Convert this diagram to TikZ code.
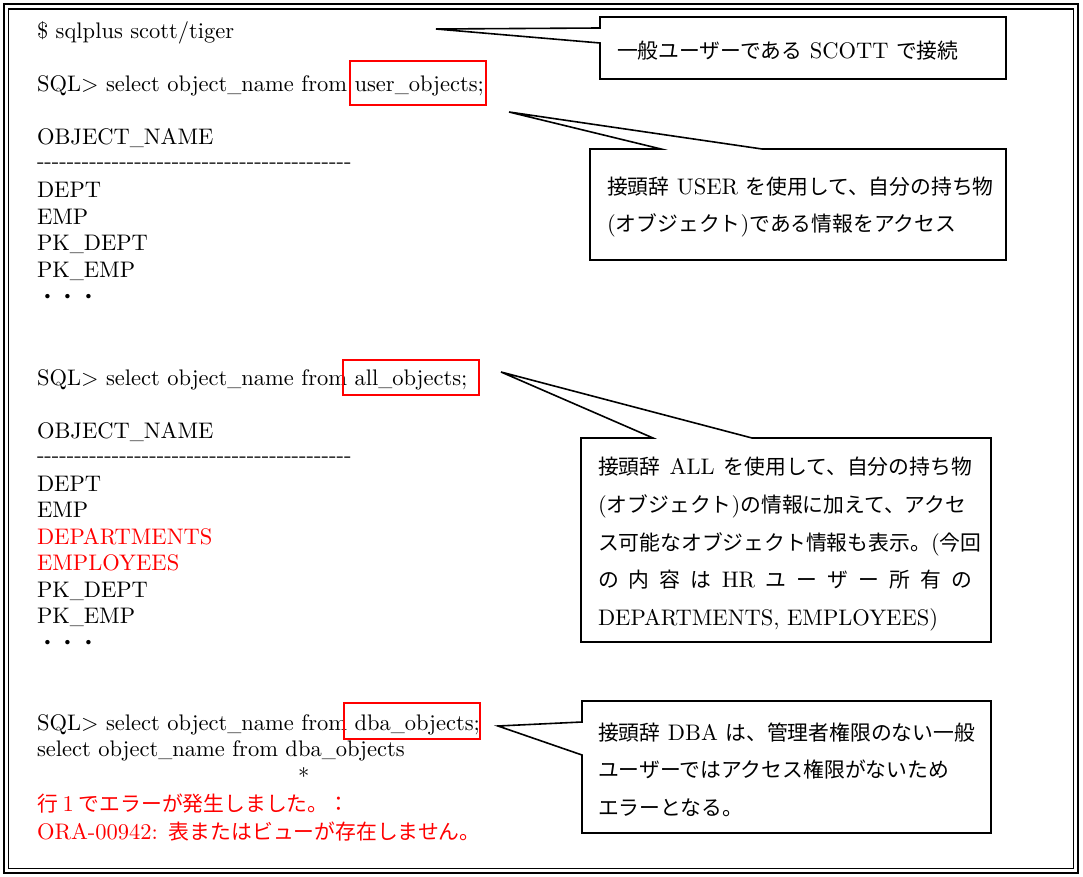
\documentclass[tikz,border=0pt]{standalone}
\usepackage{fontspec}
\setmainfont{lmroman10-regular}[Extension=.otf,BoldFont=lmroman10-bold,ItalicFont=lmroman10-italic,BoldItalicFont=lmroman10-bolditalic]
\newfontfamily\jp[Scale=0.925]{Noto Sans CJK JP}
\usetikzlibrary{calc}
\definecolor{errred}{RGB}{255,0,0}
\newcommand\us{\begingroup\setbox0\hbox{\_}\dimen0=\wd0\relax
  \pgfmathsetmacro\usf{14/\the\dimen0}\scalebox{\usf}[1]{\box0}\endgroup}
\begin{document}
\begin{tikzpicture}[x=1pt,y=-1pt,
  font=\fontsize{22.5}{26.5}\selectfont,
  code/.style={anchor=base west,inner sep=0pt,outer sep=0pt},
  err/.style={code,text=errred},
  redbox/.style={draw=errred,line width=1.8pt,inner sep=0pt},
  cbox/.style={anchor=north west,inner sep=0pt,outer sep=0pt},
  cline/.style={line width=1.6pt,line join=miter},
  ctext/.style={anchor=base west,inner sep=0pt,outer sep=0pt}]
\useasboundingbox (0,0) rectangle (1083,877);
% outer double frame
\draw[line width=2pt] (3.5,4) rectangle (1078,873);
\draw[line width=1.3pt] (8.5,9) rectangle (1073.5,868.5);
\newcommand\hyphens{\foreach \k in {1,...,42}{\mbox{-}}}
% ---------- block 1
\node[code] (l1) at (37,39) {\$ sqlplus scott/tiger};
\node[code] (l2) at (37,92) {SQL> select object\us name from user\us objects;};
\node[code] (l3) at (37,145) {OBJECT\us NAME};
\node[code] (l4) at (37,169) {\hyphens};
\node[code] (l5) at (37,198) {DEPT};
\node[code] (l6) at (37,224.5) {EMP};
\node[code] (l7) at (37,251) {PK\us DEPT};
\node[code] (l8) at (37,277.5) {PK\us EMP};
\node[code] (l9) at (37,304) {\jp ・・・};
\node[redbox,minimum width=136,minimum height=44] (ubox) at (418,83) {};
% ---------- block 2
\node[code] (m1) at (37,385) {SQL> select object\us name from all\us objects;};
\node[code] (m2) at (37,438) {OBJECT\us NAME};
\node[code] (m3) at (37,462) {\hyphens};
\node[code] (m4) at (37,491) {DEPT};
\node[code] (m5) at (37,517.5) {EMP};
\node[err] (m6) at (37,544) {DEPARTMENTS};
\node[err] (m7) at (37,570.5) {EMPLOYEES};
\node[code] (m8) at (37,597) {PK\us DEPT};
\node[code] (m9) at (37,623.5) {PK\us EMP};
\node[code] (m10) at (37,650) {\jp ・・・};
\node[redbox,minimum width=136,minimum height=35] (abox) at (411,377.5) {};
% ---------- block 3
\node[code] (n1) at (37,730) {SQL> select object\us name from dba\us objects;};
\node[code] (n2) at (37,756.5) {select object\us name from dba\us objects};
\node[code] (n3) at (298,784) {*};
\node[err] (n4) at (37,811) {{\jp 行}\makebox[21pt]{1}{\jp でエラーが発生しました。：}};
\node[err] (n5) at (37,839) {ORA-00942:\hspace{11pt}{\jp 表またはビューが存在しません。}};
\node[redbox,minimum width=136,minimum height=36] (dbox) at (412,721) {};
% ---------- callout 1
\node[cbox,minimum width=406,minimum height=62] (c1) at (600,17) {};
\coordinate (t1) at (436,29);
\draw[cline] (c1.north west) -- (c1.north east) -- (c1.south east) -- (c1.south west)
  -- ($(c1.north west)+(0,26)$) -- (t1) -- ($(c1.north west)+(0,11)$) -- cycle;
\node[ctext] (c1a) at (617,58.5) {{\jp 一般ユーザーである} SCOTT {\jp で接続}};
% ---------- callout 2
\node[cbox,minimum width=416,minimum height=111] (c2) at (590,149) {};
\coordinate (t2) at (509,112);
\draw[cline] (c2.north west) -- ($(c2.north west)+(71,0)$) -- (t2) -- ($(c2.north west)+(172,0)$)
  -- (c2.north east) -- (c2.south east) -- (c2.south west) -- cycle;
\node[ctext] (c2a) at (607,195) {{\jp 接頭辞} USER {\jp を使用して、自分の持ち物}};
\node[ctext] (c2b) at (607,232) {({\jp オブジェクト}){\jp である情報をアクセス}};
% ---------- callout 3
\node[cbox,minimum width=410,minimum height=204] (c3) at (581,438) {};
\coordinate (t3) at (501,372);
\draw[cline] (c3.north west) -- ($(c3.north west)+(72,0)$) -- (t3) -- ($(c3.north west)+(171,0)$)
  -- (c3.north east) -- (c3.south east) -- (c3.south west) -- cycle;
\node[ctext] (c3a) at (598,474) {\makebox[374pt][s]{{\jp 接頭辞} ALL {\jp を使用して、自分の持ち物}}};
\node[ctext] (c3b) at (598,512) {({\jp オブジェクト}){\jp の情報に加えて、アクセ}};
\node[ctext] (c3c) at (598,550) {{\jp ス可能なオブジェクト情報も表示。}({\jp 今回}};
\node[ctext] (c3d) at (598,587) {\makebox[374pt][s]{{\jp の}\hfill{\jp 内}\hfill{\jp 容}\hfill{\jp は}\hfill HR\hfill{\jp ユ}\hfill{\jp ー}\hfill{\jp ザ}\hfill{\jp ー}\hfill{\jp 所}\hfill{\jp 有}\hfill{\jp の}}};
\node[ctext] (c3e) at (598,625) {DEPARTMENTS, EMPLOYEES)};
% ---------- callout 4
\node[cbox,minimum width=409,minimum height=132] (c4) at (582,701) {};
\coordinate (t4) at (498,726);
\draw[cline] (c4.north west) -- (c4.north east) -- (c4.south east) -- (c4.south west)
  -- ($(c4.north west)+(0,54)$) -- (t4) -- ($(c4.north west)+(0,21)$) -- cycle;
\node[ctext] (c4a) at (598,740) {{\jp 接頭辞} DBA {\jp は、管理者権限のない一般}};
\node[ctext] (c4b) at (598,777) {\jp ユーザーではアクセス権限がないため};
\node[ctext] (c4c) at (598,815) {\jp エラーとなる。};
\end{tikzpicture}
\end{document}
